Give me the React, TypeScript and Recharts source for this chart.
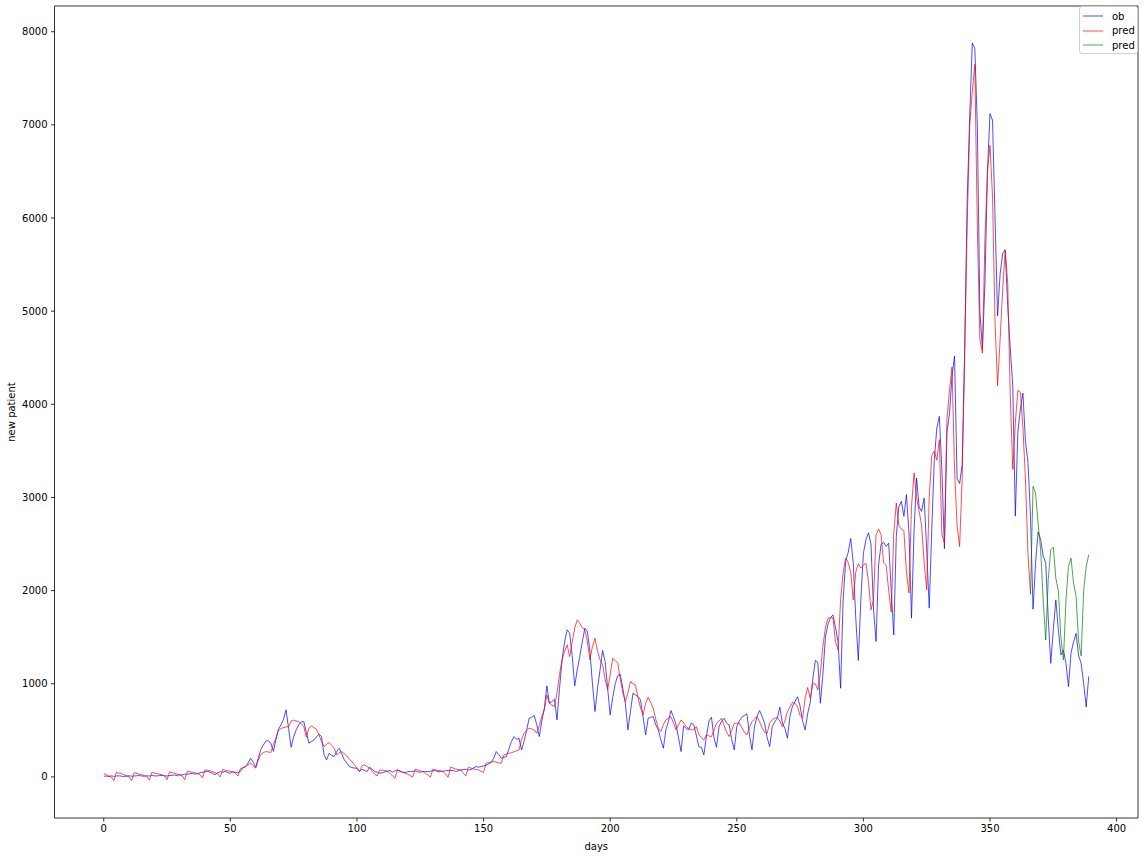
import React from 'react';
import { LineChart, Line, XAxis, YAxis, Legend, ReferenceLine } from 'recharts';

// observed daily new patients, day 0..389
const observed = [
  10, 8, 5, 12, 6, 10, 12, 8, 5, 10,
  12, 8, 10, 12, 15, 10, 8, 12, 10, 15,
  12, 10, 15, 18, 12, 10, 15, 18, 20, 15,
  25, 20, 30, 28, 35, 40, 30, 35, 45, 50,
  55, 60, 50, 35, 25, 45, 55, 50, 60, 45,
  40, 55, 50, 45, 60, 100, 110, 150, 200, 160,
  102, 200, 292, 340, 385, 390, 360, 274, 400, 512,
  560, 620, 720, 520, 318, 430, 505, 560, 590, 594,
  480, 362, 380, 397, 430, 458, 433, 240, 183, 254,
  230, 219, 272, 308, 250, 183, 150, 111, 100, 95,
  93, 58, 82, 70, 58, 104, 80, 58, 50, 40,
  45, 55, 60, 70, 50, 65, 75, 60, 50, 47,
  55, 60, 58, 65, 55, 50, 58, 60, 55, 62,
  66, 68, 55, 58, 62, 65, 70, 68, 68, 60,
  65, 75, 80, 82, 75, 80, 95, 111, 105, 111,
  118, 125, 140, 154, 200, 272, 240, 201, 210, 218,
  300, 380, 433, 405, 415, 290, 380, 500, 630, 640,
  660, 560, 433, 600, 737, 977, 791, 810, 834, 612,
  950, 1257, 1450, 1579, 1543, 1300, 977, 1150, 1292, 1450,
  1597, 1561, 1350, 1000, 702, 950, 1150, 1357, 1239, 950,
  666, 850, 1000, 1090, 1100, 950, 791, 505, 700, 898,
  880, 862, 827, 640, 451, 630, 640, 648, 560, 505,
  400, 308, 505, 594, 712, 648, 560, 420, 272, 548,
  520, 505, 580, 560, 450, 326, 320, 236, 433, 600,
  641, 420, 319, 540, 600, 630, 576, 558, 400, 290,
  540, 600, 641, 660, 677, 450, 290, 540, 650, 712,
  648, 576, 420, 326, 540, 590, 630, 748, 576, 520,
  415, 650, 760, 809, 860, 760, 600, 505, 680, 800,
  1042, 1250, 1230, 791, 1100, 1500, 1640, 1710, 1740, 1600,
  1450, 952, 1900, 2317, 2410, 2560, 2300, 1700, 1250, 1900,
  2400, 2546, 2620, 2500, 1800, 1454, 2278, 2500, 2518, 2475,
  2510, 2000, 1525, 2582, 2900, 2958, 2797, 3030, 2618, 1704,
  2636, 3209, 2900, 2851, 2994, 2439, 1812, 2654, 3400, 3746,
  3870, 3300, 2450, 3700, 3900, 4300, 4520, 3200, 3150, 3350,
  4600, 6200, 7100, 7880, 7820, 7000, 5000, 4600, 5300, 6500,
  7120, 7050, 6000, 4950, 5400, 5620, 5660, 5050, 4600, 4200,
  2800, 3700, 3950, 4120, 3600, 3380, 2800, 1800, 2300, 2630,
  2550, 2370, 2300, 1700, 1220, 1580, 1900, 1580, 1310, 1360,
  1220, 970, 1330, 1450, 1540, 1300, 1220, 1000, 750, 1080,
];

// fitted prediction, day 0..366
const predicted = [
  35, 25, 10, 0, -40, 50, 40, 35, 25, 10,
  0, -40, 45, 40, 30, 25, 15, 5, -35, 50,
  40, 35, 30, 20, 10, -30, 55, 45, 40, 30,
  20, 10, -30, 60, 55, 50, 45, 35, 25, -10,
  75, 70, 65, 55, 45, 35, 0, 80, 70, 65,
  60, 55, 40, 10, 90, 100, 110, 130, 150, 120,
  95, 180, 240, 260, 272, 268, 262, 350, 420, 500,
  520, 530, 535, 540, 600, 610, 600, 595, 570, 540,
  426, 520, 548, 530, 512, 450, 380, 326, 350, 369,
  340, 308, 236, 260, 272, 250, 226, 190, 165, 130,
  95, 58, 120, 129, 110, 93, 60, 30, 11, 75,
  72, 68, 64, 40, 10, -14, 75, 65, 50, 40,
  30, 15, -3, 82, 75, 65, 58, 40, 20, -3,
  82, 75, 70, 65, 58, 30, -3, 104, 95, 85,
  80, 75, 40, 11, 104, 95, 85, 80, 75, 60,
  47, 147, 155, 160, 165, 160, 150, 147, 236, 245,
  254, 260, 270, 280, 290, 400, 470, 500, 523, 515,
  505, 469, 550, 650, 719, 880, 791, 770, 755, 900,
  1100, 1257, 1350, 1418, 1292, 1450, 1600, 1686, 1650, 1600,
  1579, 1450, 1257, 1400, 1489, 1350, 1257, 1203, 1050, 934,
  1100, 1274, 1250, 1221, 1050, 900, 809, 900, 1024, 1000,
  988, 850, 740, 666, 790, 855, 800, 737, 620, 523,
  487, 560, 612, 630, 648, 580, 505, 560, 612, 580,
  540, 520, 505, 505, 540, 460, 420, 397, 451, 440,
  433, 500, 576, 600, 630, 550, 480, 433, 500, 576,
  576, 576, 530, 480, 451, 530, 594, 620, 648, 590,
  530, 480, 469, 580, 612, 630, 641, 600, 540, 600,
  700, 750, 800, 790, 755, 660, 630, 850, 960, 845,
  1000, 1000, 934, 1113, 1400, 1600, 1704, 1712, 1704, 1450,
  1364, 1900, 2188, 2349, 2300, 2200, 1900, 2200, 2288, 2242,
  2270, 2296, 2100, 1794, 1900, 2600, 2661, 2600, 2296, 2270,
  2000, 1770, 2618, 2940, 2700, 2660, 2640, 2200, 1973, 2900,
  3263, 3000, 2851, 2700, 2300, 2009, 3000, 3450, 3496, 3400,
  3621, 2600, 2510, 3836, 4150, 4400, 3300, 2700, 2474, 3200,
  4514, 5946, 7000, 7350, 7650, 5900, 4700, 4550, 5770, 6500,
  6780, 6230, 4870, 4200, 4700, 5230, 5650, 5300, 4100, 3300,
  3800, 4150, 4130, 3750, 3200, 2400, 1960,
];

// forecast, starting at day 366
const forecastStart = 366;
const forecast = [
  1960, 3120, 3048, 2726, 2439, 1900, 1470, 2116, 2439, 2467,
  2134, 2000, 1500, 1257, 1900, 2260, 2349, 2081, 1937, 1450,
  1300, 2000, 2260, 2385,
];

const xTicks = [0, 50, 100, 150, 200, 250, 300, 350, 400];
const yTicks = [0, 1000, 2000, 3000, 4000, 5000, 6000, 7000, 8000];

const X_DOMAIN: [number, number] = [-19.45, 408.45];
const Y_DOMAIN: [number, number] = [-441, 8276];

const rows = observed.map((v, day) => ({
  day,
  ob: v,
  pred: day < predicted.length ? predicted[day] : null,
  pred2: day >= forecastStart ? forecast[day - forecastStart] : null,
}));

const font = { fontFamily: 'DejaVu Sans', fontSize: 10, fill: '#000' };

const legendItems = [
  { label: 'ob', color: 'blue' },
  { label: 'pred', color: 'red' },
  { label: 'pred', color: 'green' },
];

const renderLegend = () => (
  <div
    style={{
      width: 59,
      height: 48,
      boxSizing: 'border-box',
      border: '1px solid #d0d0d0',
      borderRadius: 3,
      background: 'rgba(255,255,255,0.85)',
      paddingTop: 2,
      fontFamily: 'DejaVu Sans',
      fontSize: 10,
      color: '#000',
    }}
  >
    {legendItems.map((it, i) => (
      <div key={i} style={{ height: 14.5, display: 'flex', alignItems: 'center' }}>
        <svg width={20} height={4} style={{ marginLeft: 3 }}>
          <line x1={0} y1={2} x2={20} y2={2} stroke={it.color} strokeWidth={0.7} />
        </svg>
        <span style={{ marginLeft: 9 }}>{it.label}</span>
      </div>
    ))}
  </div>
);

const App: React.FC = () => {
  return (
    <div style={{ position: 'absolute', left: 0, top: 0, width: 1144, height: 856, background: '#fff' }}>
      <LineChart width={1144} height={856} data={rows} margin={{ top: 6, right: 6, left: 0, bottom: 0 }}>
        <XAxis
          dataKey="day"
          type="number"
          domain={X_DOMAIN}
          ticks={xTicks}
          allowDataOverflow
          height={38}
          tickSize={3.5}
          tickMargin={3.5}
          tick={font}
          stroke="#000"
          strokeWidth={0.8}
          label={{ value: 'days', position: 'insideBottom', offset: 6, ...font }}
        />
        <YAxis
          type="number"
          domain={Y_DOMAIN}
          ticks={yTicks}
          allowDataOverflow
          width={54.5}
          tickSize={3.5}
          tickMargin={3.5}
          tick={font}
          stroke="#000"
          strokeWidth={0.8}
          label={{
            content: () => (
              <text x={11.5} y={412} transform="rotate(-90, 11.5, 412)" textAnchor="middle" dominantBaseline="central" {...font}>
                new patient
              </text>
            ),
          }}
        />
        <ReferenceLine y={Y_DOMAIN[1]} stroke="#000" strokeWidth={0.8} />
        <ReferenceLine x={X_DOMAIN[1]} stroke="#000" strokeWidth={0.8} />
        <Line type="linear" dataKey="ob" stroke="blue" strokeWidth={0.7} dot={false} isAnimationActive={false} />
        <Line type="linear" dataKey="pred" stroke="red" strokeWidth={0.7} dot={false} isAnimationActive={false} />
        <Line type="linear" dataKey="pred2" stroke="green" strokeWidth={0.7} dot={false} isAnimationActive={false} />
        <Legend
          layout="vertical"
          align="center"
          verticalAlign="middle"
          wrapperStyle={{ left: 1079, top: 6, width: 59, height: 48 }}
          content={renderLegend}
        />
      </LineChart>
    </div>
  );
};

export default App;
